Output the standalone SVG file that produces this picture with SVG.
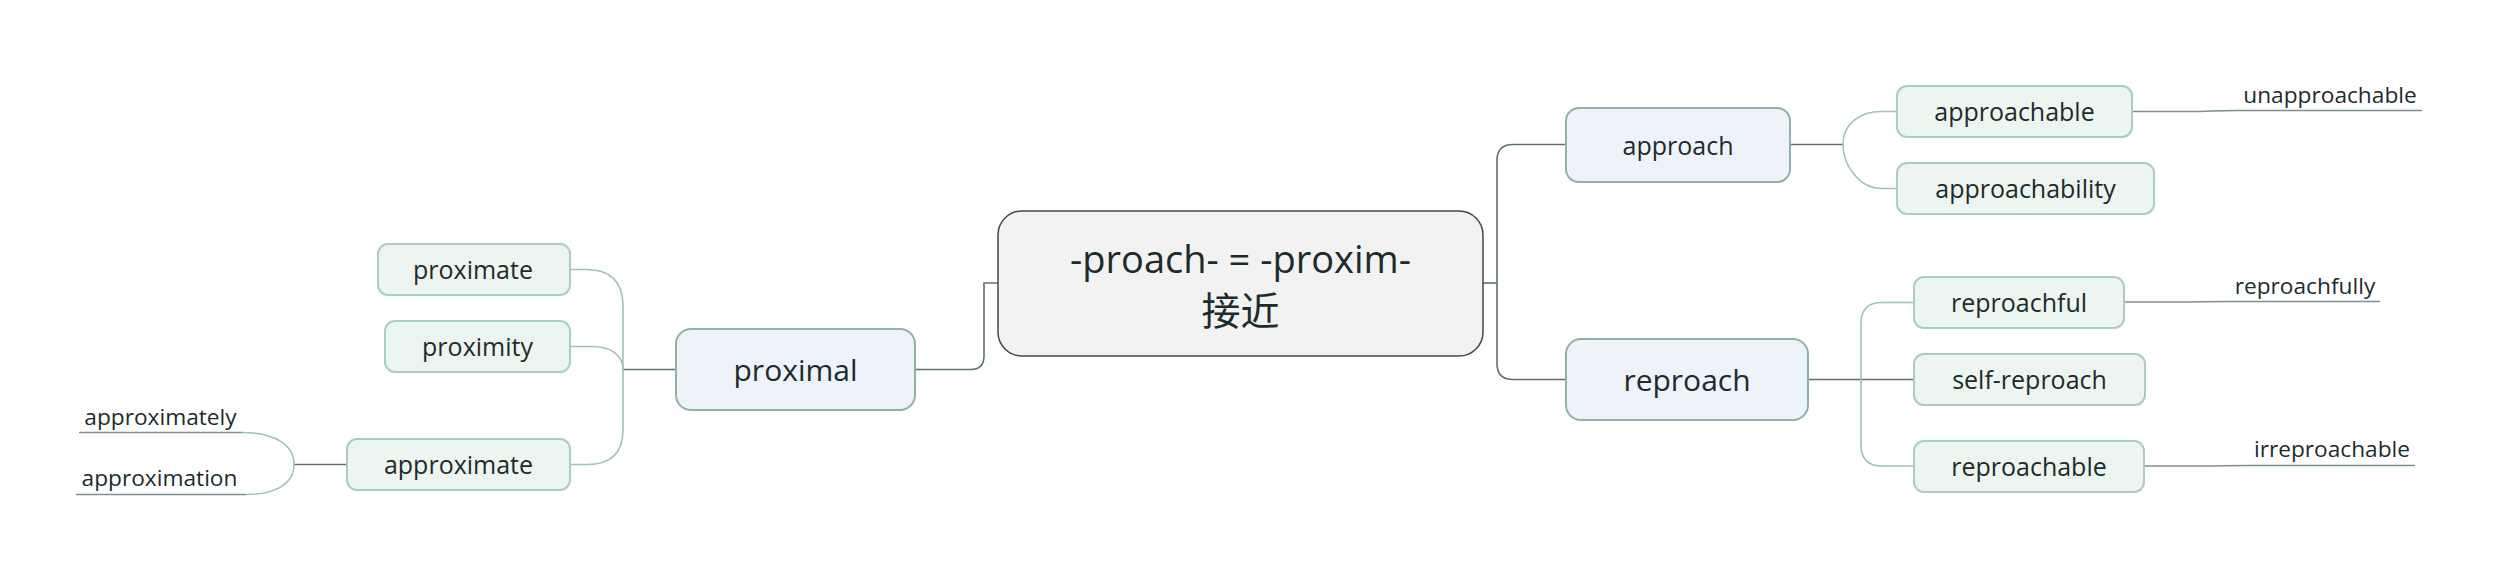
<svg xmlns="http://www.w3.org/2000/svg" width="2497" height="571" viewBox="0 0 2497 571">
<style>
text{font-family:"Open Sans","Noto Sans CJK SC",sans-serif;fill:#1c2b2b;text-anchor:middle}
.root rect{fill:#f2f2f2;stroke:#3b4b4d;stroke-width:1.5}
.main rect{fill:#eef3f9;stroke:#8db2aa;stroke-width:2}
.sub rect{fill:#ecf5ef;stroke:#a9cdbf;stroke-width:2}
.t1{font-size:30px}
.t2{font-size:25px}
.lab{font-size:22.7px}
.dark{fill:none;stroke:#5d7174;stroke-width:1.6}
.light{fill:none;stroke:#9fc3b6;stroke-width:1.6}
.ul{fill:none;stroke:#7d8f95;stroke-width:1.6}
</style>
<rect width="2497" height="571" fill="#ffffff"/>
<g id="connectors">
<path class="dark" d="M1483,283 H1497"/>
<path class="dark" d="M1566,144.5 H1513 Q1497,144.5 1497,160.5 V363.5 Q1497,379.5 1513,379.5 H1566"/>
<path class="dark" d="M998,283 H984 V356 Q984,369.5 970.5,369.5 H915"/>
<path class="dark" d="M1790,144.5 H1843"/>
<path class="light" d="M1897,111.5 H1882 C1858,111.5 1843,125 1843,144.5 C1843,164 1858,188.5 1882,188.5 H1897"/>
<path class="dark" d="M1808,379.5 H1914"/>
<path class="light" d="M1914,302.5 H1882 Q1861,302.5 1861,323.5 V445 Q1861,466 1882,466 H1914"/>
<path class="dark" d="M676,369.5 H623"/>
<path class="light" d="M570,269.5 H586 Q623,269.5 623,306 V430 Q623,464.5 587,464.5 H570"/>
<path class="light" d="M570,346.5 H592 C611,346.5 623,355 623,369.5"/>
<path class="dark" d="M347,464.5 H294"/>
<path class="light" d="M294,464.5 C294,445 275,432.5 242,432.5"/>
<path class="light" d="M294,464.5 C294,484 275,494.5 246,494.5"/>
<path class="ul" d="M242,432.5 H79"/>
<path class="ul" d="M246,494.5 H76"/>
<path class="ul" d="M2132,111.5 H2186 C2212,111.5 2212,110.5 2238,110.5 H2422"/>
<path class="ul" d="M2124,302 H2178 C2204,302 2204,301.5 2230,301.5 H2380"/>
<path class="ul" d="M2144,466 H2198 C2224,466 2224,465.5 2250,465.5 H2415"/>
</g>
<g id="node-root" class="root">
<rect x="998" y="211" width="485" height="145" rx="24"/>
<text x="1240.5" y="273" font-size="38">-proach- = -proxim-</text>
<text x="1240.5" y="325" font-size="39">接近</text>
</g>
<g id="node-approach" class="main">
<rect x="1566" y="108" width="224" height="74" rx="13"/>
<text class="t2" x="1678" y="154.5">approach</text>
</g>
<g id="node-reproach" class="main">
<rect x="1566" y="339" width="242" height="81" rx="15"/>
<text class="t1" x="1687" y="390.5">reproach</text>
</g>
<g id="node-proximal" class="main">
<rect x="676" y="329" width="239" height="81" rx="15"/>
<text class="t1" x="795.5" y="381">proximal</text>
</g>
<g id="node-approachable" class="sub">
<rect x="1897" y="86" width="235" height="51" rx="10"/>
<text class="t2" x="2014.5" y="121">approachable</text>
</g>
<g id="node-approachability" class="sub">
<rect x="1897" y="163" width="257" height="51" rx="10"/>
<text class="t2" x="2025.5" y="198">approachability</text>
</g>
<g id="node-reproachful" class="sub">
<rect x="1914" y="277" width="210" height="51" rx="10"/>
<text class="t2" x="2019" y="312">reproachful</text>
</g>
<g id="node-self-reproach" class="sub">
<rect x="1914" y="354" width="231" height="51" rx="10"/>
<text class="t2" x="2029.5" y="389">self-reproach</text>
</g>
<g id="node-reproachable" class="sub">
<rect x="1914" y="441" width="230" height="51" rx="10"/>
<text class="t2" x="2029" y="476">reproachable</text>
</g>
<g id="node-proximate" class="sub">
<rect x="378" y="244" width="192" height="51" rx="10"/>
<text class="t2" x="473" y="279">proximate</text>
</g>
<g id="node-proximity" class="sub">
<rect x="385" y="321" width="185" height="51" rx="10"/>
<text class="t2" x="477.5" y="356">proximity</text>
</g>
<g id="node-approximate" class="sub">
<rect x="347" y="439" width="223" height="51" rx="10"/>
<text class="t2" x="458.5" y="474">approximate</text>
</g>
<g id="node-unapproachable"><text class="lab" x="2330" y="103">unapproachable</text></g>
<g id="node-reproachfully"><text class="lab" x="2305" y="293.5">reproachfully</text></g>
<g id="node-irreproachable"><text class="lab" x="2332" y="457">irreproachable</text></g>
<g id="node-approximately"><text class="lab" x="160.5" y="424.5">approximately</text></g>
<g id="node-approximation"><text class="lab" x="159.5" y="486">approximation</text></g>
</svg>
